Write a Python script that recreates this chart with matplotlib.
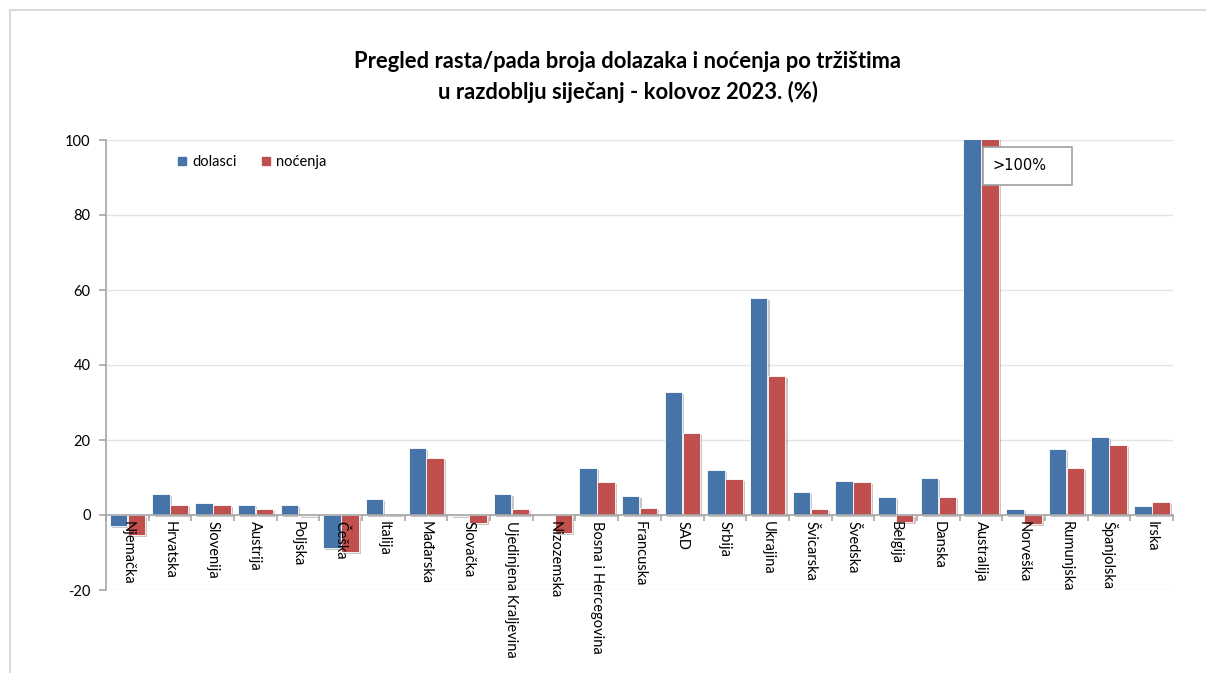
import numpy as np
import matplotlib
matplotlib.use("Agg")
import matplotlib.pyplot as plt
import matplotlib.patheffects as pe
from matplotlib.patches import Rectangle
from matplotlib.lines import Line2D

plt.rcParams['font.family'] = ['Lato', 'DejaVu Sans']
plt.rcParams['axes.unicode_minus'] = False

# data (% change Jan-Aug 2023)
markets = ["Njemačka", "Hrvatska", "Slovenija", "Austrija", "Poljska", "Češka",
           "Italija", "Mađarska", "Slovačka", "Ujedinjena Kraljevina", "Nizozemska",
           "Bosna i Hercegovina", "Francuska", "SAD", "Srbija", "Ukrajina",
           "Švicarska", "Švedska", "Belgija", "Danska", "Australija", "Norveška",
           "Rumunjska", "Španjolska", "Irska"]
dolasci = [-2.9, 5.5, 3.1, 2.8, 2.8, -8.7, 4.2, 18.0, -0.2, 5.5, -0.1, 12.6, 5.2,
           32.9, 11.9, 57.9, 6.2, 9.2, 4.9, 9.9, 150.0, 1.5, 17.7, 20.7, 2.5]
nocenja = [-5.3, 2.8, 2.8, 1.5, -0.3, -9.8, 0.4, 15.1, -2.0, 1.5, -4.9, 8.9, 2.0,
           22.0, 9.5, 37.2, 1.5, 8.9, -1.8, 4.9, 130.0, -2.5, 12.6, 18.7, 3.5]

blue = '#4674A8'
red = '#C0504D'
W, H = 1206, 673

fig = plt.figure(figsize=(W / 100, H / 100), dpi=100)
ax = fig.add_axes([106 / W, 1 - 590 / H, (1173 - 106) / W, (590 - 140) / H])

x = np.arange(len(markets))
shadow = [pe.SimplePatchShadow(offset=(1.5, -1.5), alpha=0.25), pe.Normal()]
ax.bar(x - 0.206, dolasci, 0.41, color=blue, edgecolor='white', linewidth=0.6,
       path_effects=shadow, zorder=3)
ax.bar(x + 0.214, nocenja, 0.41, color=red, edgecolor='white', linewidth=0.6,
       path_effects=shadow, zorder=3)

ax.set_xlim(-0.5, len(markets) - 0.5)
ax.set_ylim(-20, 100)
ax.set_yticks(range(-20, 101, 20))
# gridlines drawn by hand so the axis (and its labels) can sit above the bars
for yv in range(-20, 101, 20):
    ax.axhline(yv, color='#e4e4e4', linewidth=1, zorder=1)
ax.xaxis.set_zorder(5)
ax.yaxis.set_zorder(5)

for s in ['top', 'right']:
    ax.spines[s].set_visible(False)
ax.spines['left'].set_color('#a6a6a6')
ax.spines['left'].set_linewidth(1.2)
ax.spines['bottom'].set_position(('data', 0))
ax.spines['bottom'].set_color('#a6a6a6')
ax.spines['bottom'].set_linewidth(1.2)
ax.spines['bottom'].set_zorder(4)

ax.set_xticks(x)
ax.set_xticklabels(markets, rotation=-90, fontsize=10.5, va='top', ha='center')
ax.set_xticks(np.arange(-0.5, len(markets), 1), minor=True)
ax.tick_params(axis='x', which='major', length=0, pad=4)
ax.tick_params(axis='x', which='minor', length=4, color='#a6a6a6', width=1.2)
ax.tick_params(axis='y', length=5, color='#a6a6a6', width=1.2, labelsize=10.5, pad=6)

handles = [Line2D([], [], marker='s', linestyle='', color=blue, markersize=6),
           Line2D([], [], marker='s', linestyle='', color=red, markersize=6)]
ax.legend(handles, ['dolasci', 'noćenja'], loc='center left', ncol=2,
          bbox_to_anchor=(163 / W, 1 - 162 / H), bbox_transform=fig.transFigure,
          frameon=False, fontsize=10.5, handletextpad=0.3, columnspacing=1.6,
          handlelength=0.8)

# note box for Australija
fig.add_artist(Rectangle((983 / W, 1 - 185 / H), 89 / W, 38 / H,
                         transform=fig.transFigure, facecolor='white',
                         edgecolor='#a0a0a0', linewidth=1.2, zorder=5))
fig.text(993 / W, 1 - 166 / H, '>100%', fontsize=10.5, va='center', ha='left',
         zorder=6, family=['DejaVu Sans'])

fig.text(628 / W, 1 - 62 / H, 'Pregled rasta/pada broja dolazaka i noćenja po tržištima',
         ha='center', va='center', fontsize=15.8, fontweight='bold')
fig.text(628 / W, 1 - 92 / H, 'u razdoblju siječanj - kolovoz 2023. (%)',
         ha='center', va='center', fontsize=15.8, fontweight='bold')

# light frame around the chart
fig.add_artist(Line2D([10 / W, 1], [1 - 10 / H, 1 - 10 / H], transform=fig.transFigure,
                      color='#d9d9d9', linewidth=1.5))
fig.add_artist(Line2D([10 / W, 10 / W], [0, 1 - 10 / H], transform=fig.transFigure,
                      color='#d9d9d9', linewidth=1.5))

fig.savefig('out.png', dpi=100)
